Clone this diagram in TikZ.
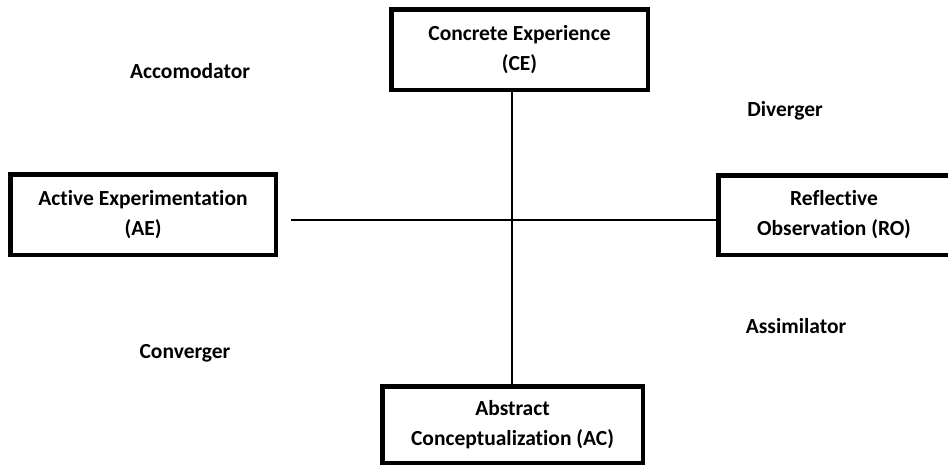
\documentclass[tikz,border=0pt]{standalone}
\usepackage{fontspec}
\setmainfont{Carlito}[Ligatures=NoCommon]
\begin{document}
\begin{tikzpicture}[x=1pt,y=-1pt,
  every node/.style={font=\fontsize{21.5}{30}\selectfont\bfseries, align=center},
  stagebox/.style={draw=black, line width=4.5pt, inner sep=0pt, fill=white},
  axis/.style={draw=black, line width=2.2pt},
  stylelabel/.style={inner sep=0pt}]
  \useasboundingbox (0,0) rectangle (948,467);
  % four stages of the cycle
  \node[stagebox, minimum width=256.5pt, minimum height=80.5pt] (ce) at (519.5,49.5) {Concrete Experience\\(CE)};
  \node[stagebox, minimum width=265.5pt, minimum height=80.5pt] (ae) at (143,214.5) {Active Experimentation\\(AE)};
  \node[stagebox, minimum width=231.5pt, minimum height=79.5pt] (ro) at (834,215) {Reflective\\Observation (RO)};
  \node[stagebox, minimum width=260.5pt, minimum height=76.5pt] (ac) at (512.5,424.5) {Abstract\\Conceptualization (AC)};
  % crossing axes
  \coordinate (vx) at (512,0);
  \coordinate (hy) at (0,220);
  \draw[axis] (ce.south -| vx) -- (ac.north -| vx);
  \draw[axis, shorten <=13pt] (ae.east |- hy) -- (ro.west |- hy);
  % learning styles in the quadrants
  \node[stylelabel] (acc) at (190,71) {Accomodator};
  \node[stylelabel] (div) at (785,111) {Diverger};
  \node[stylelabel] (con) at (185,353) {Converger};
  \node[stylelabel] (ass) at (796,326) {Assimilator};
\end{tikzpicture}
\end{document}
